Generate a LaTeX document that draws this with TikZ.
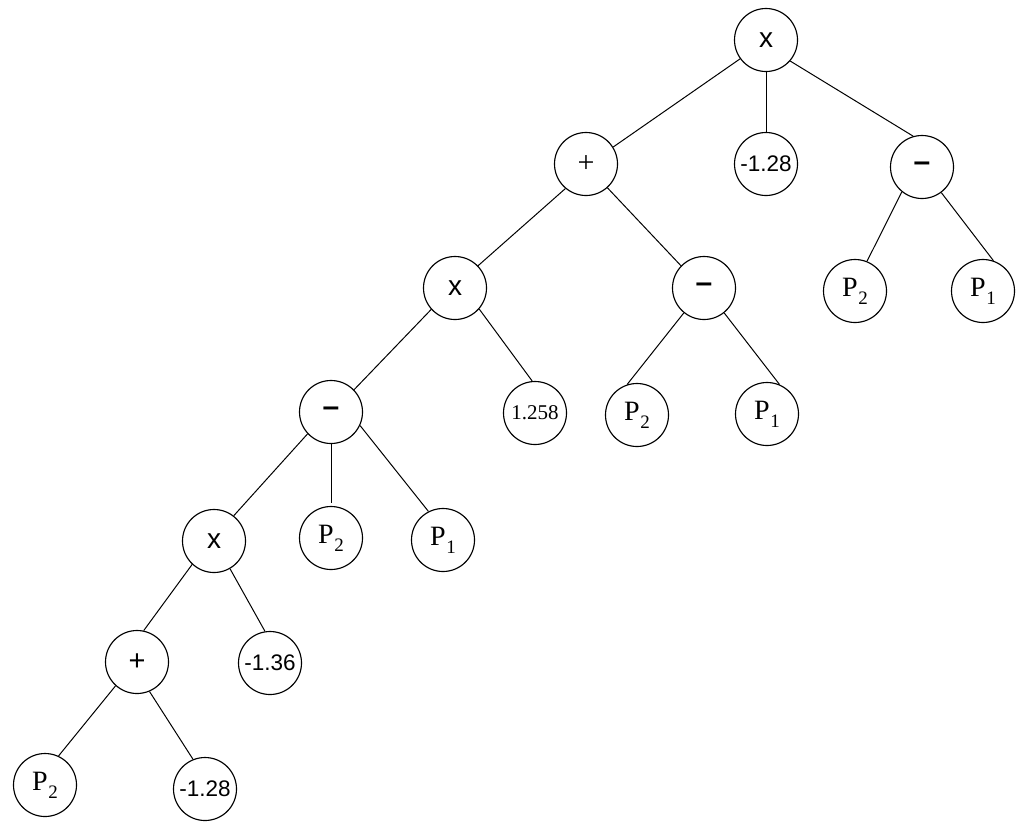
\documentclass[tikz,border=0pt]{standalone}
\usepackage{fontspec}
\setmainfont{Liberation Serif}
\newfontfamily\arialf{Liberation Sans}
\newcommand{\Pv}[1]{{\fontsize{28}{28}\selectfont P\kern0.5pt\raisebox{-8pt}{\fontsize{19}{19}\selectfont #1}}}
\tikzset{
  nd/.style={circle, draw, line width=1.15pt, minimum size=63pt, inner sep=0pt},
  opx/.style={nd, font=\arialf\fontsize{28}{28}\selectfont},
  opp/.style={nd, font=\fontsize{30}{30}\selectfont},
  oppb/.style={nd, font=\arialf\fontsize{29}{29}\selectfont},
  opm/.style={nd, font=\arialf\bfseries\fontsize{30}{30}\selectfont},
  numa/.style={nd, font=\arialf\fontsize{22.5}{22.5}\selectfont},
  numt/.style={nd, font=\fontsize{21}{21}\selectfont},
  var/.style={nd},
  edge/.style={line width=1pt}
}
\begin{document}
\begin{tikzpicture}[x=1pt,y=-1pt]
\useasboundingbox (0,0) rectangle (1024,830);
\node[opx] (r) at (766,40) {x};
\node[opp] (a) at (586,164) {+};
\node[numa] (b) at (766,164) {-1.28};
\node[opm] (c) at (922,167) {–};
\node[opx] (d) at (455,288) {x};
\node[opm] (e) at (704,288) {–};
\node[var] (f) at (855,291) {\Pv{2}};
\node[var] (g) at (983,291) {\Pv{1}};
\node[opm] (h) at (331,412) {–};
\node[numt] (i) at (535,413) {1.258};
\node[var] (j) at (637,415) {\Pv{2}};
\node[var] (k) at (767,414) {\Pv{1}};
\node[opx] (l) at (214,541) {x};
\node[var] (m) at (331,538) {\Pv{2}};
\node[var] (n) at (443,540) {\Pv{1}};
\node[oppb] (o) at (137,662) {+};
\node[numa] (p) at (270,663) {-1.36};
\node[var] (q) at (45,785) {\Pv{2}};
\node[numa] (s) at (205,789) {-1.28};
\draw[edge] (r.-144) -- (a.32);
\draw[edge] (r.-90) -- (b.90);
\draw[edge] (r.-41) -- (c.106);
\draw[edge] (c.-129) -- (f.68);
\draw[edge] (c.-53) -- (g.71);
\draw[edge] (a.-130) -- (d.44);
\draw[edge] (a.-48) -- (e.136);
\draw[edge] (e.-129) -- (j.108);
\draw[edge] (e.-51) -- (k.67);
\draw[edge] (d.-138) -- (h.44);
\draw[edge] (d.-41) -- (i.95);
\draw[edge] (h.-137) -- (l.52);
\draw[edge] (h.-90) -- ([yshift=3pt]m.90);
\draw[edge] (h.-25) -- (n.117);
\draw[edge] (l.-133) -- (o.78);
\draw[edge] (l.-60) -- (p.99);
\draw[edge] (o.-132) -- (q.65);
\draw[edge] (o.-67) -- (s.112);
\end{tikzpicture}
\end{document}
